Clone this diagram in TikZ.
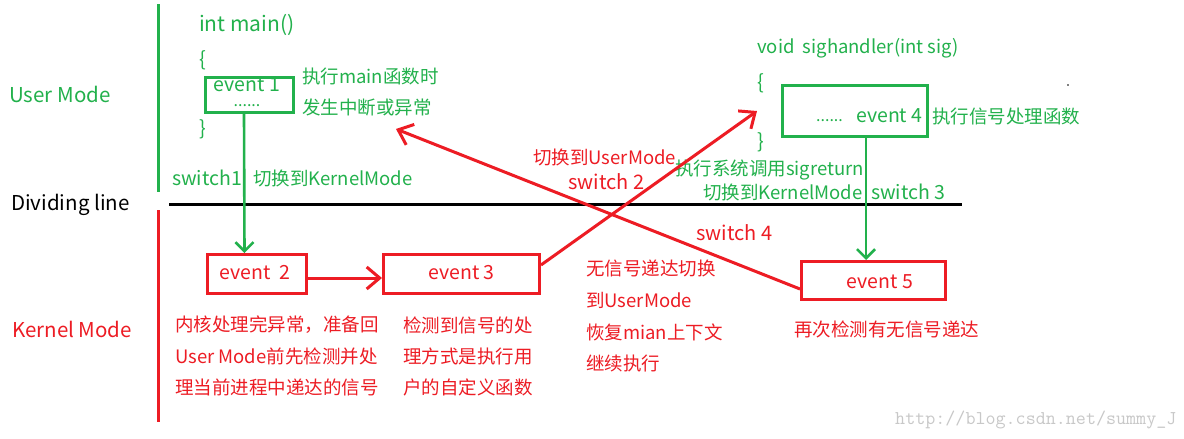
\documentclass[tikz,border=0pt]{standalone}
\usepackage{fontspec}
\setmainfont{Noto Sans CJK SC}
\usetikzlibrary{arrows.meta}
\definecolor{pgreen}{RGB}{34,177,76}
\definecolor{pred}{RGB}{237,28,36}
\definecolor{wmgray}{RGB}{200,200,200}
\begin{document}
\begin{tikzpicture}[x=1pt,y=-1pt,
  txt/.style={anchor=west,inner sep=0pt,font=\fontsize{18.5}{22}\selectfont},
  gtxt/.style={txt,text=pgreen},
  rtxt/.style={txt,text=pred},
  modelabel/.style={anchor=west,inner sep=0pt,font=\fontsize{20.5}{24}\selectfont},
  evtxt/.style={inner sep=0pt,font=\fontsize{19.5}{23}\selectfont},
  gbox/.style={draw=pgreen,line width=3pt,inner sep=0pt},
  rbox/.style={draw=pred,line width=3pt,inner sep=0pt},
  garrow/.style={draw=pgreen,line width=2.6pt,-{Straight Barb[length=9pt,width=18pt]}},
  rarrow/.style={draw=pred,line width=3pt,-{Straight Barb[length=13pt,width=22pt]}},
  modeline/.style={line width=3pt}]
\useasboundingbox[fill=white] (0,0) rectangle (1184,439);

% mode lines
\draw[modeline,pgreen] (158,4) -- (158,192);
\draw[modeline,pred] (158,210) -- (158,422);
\draw[modeline,black] (169,204.5) -- (962,204.5);

% mode labels
\node[modelabel,text=pgreen] (um) at (9,94) {User Mode};
\node[modelabel,text=black] (dl) at (11,205) {Dividing line};
\node[modelabel,text=pred] (km) at (12,329) {Kernel Mode};

% main()
\node[gtxt,font=\fontsize{21}{25}\selectfont] (im) at (199,25) {int main()};
\node[gtxt,font=\fontsize{20}{24}\selectfont] (ob1) at (199,60) {\{};
\node[gtxt,font=\fontsize{20}{24}\selectfont] (cb1) at (199,129) {\}};
\node[gbox,minimum width=88pt,minimum height=35pt] (e1) at (249.5,95) {};
\node[evtxt,text=pgreen,align=center] (e1t) at (247,92) {event 1\\[-8pt]{\fontsize{16}{18}\selectfont ......}};
\node[gtxt] (n1a) at (302,76) {执行main函数时};
\node[gtxt] (n1b) at (302,107) {发生中断或异常};
\node[gtxt,font=\fontsize{19.5}{23}\selectfont] (sw1) at (172,178) {switch1};
\node[gtxt] (sw1t) at (253,178) {切换到KernelMode};

% sighandler
\node[gtxt] (sh) at (757,48) {void\ \ sighandler(int sig)};
\node[gtxt,font=\fontsize{20}{24}\selectfont] (ob2) at (757,83) {\{};
\node[gtxt,font=\fontsize{20}{24}\selectfont] (cb2) at (757,142) {\}};
\node[gbox,minimum width=145pt,minimum height=51pt] (e4) at (855,111) {};
\node[evtxt,text=pgreen,anchor=base west,font=\fontsize{16}{19}\selectfont] (e4d) at (816,121) {......};
\node[evtxt,text=pgreen,anchor=west] (e4t) at (856,116) {event 4};
\node[gtxt] (n4) at (932,116) {执行信号处理函数};
\fill[black] (1068,85) circle (0.9pt);
\node[gtxt] (n4a) at (675,170) {执行系统调用sigreturn};
\node[gtxt] (n4b) at (703,192) {切换到KernelMode};
\node[gtxt,font=\fontsize{19.5}{23}\selectfont] (sw3) at (871,192) {switch 3};

% kernel events
\node[rbox,minimum width=99pt,minimum height=39pt] (e2) at (257,274) {};
\node[evtxt,text=pred] (e2t) at (255,273) {event\ \ 2};
\node[rbox,minimum width=156pt,minimum height=39pt] (e3) at (461.5,274) {};
\node[evtxt,text=pred] (e3t) at (461.5,273) {event 3};
\node[rbox,minimum width=144pt,minimum height=38pt] (e5) at (873.5,280.5) {};
\node[evtxt,text=pred] (e5t) at (880,282) {event 5};

\node[rtxt] (n2a) at (175,325) {内核处理完异常，准备回};
\node[rtxt] (n2b) at (175,356) {User Mode前先检测并处};
\node[rtxt] (n2c) at (175,387) {理当前进程中递达的信号};
\node[rtxt] (n3a) at (403,325) {检测到信号的处};
\node[rtxt] (n3b) at (403,356) {理方式是执行用};
\node[rtxt] (n3c) at (403,387) {户的自定义函数};
\node[rtxt] (m1) at (586,268) {无信号递达切换};
\node[rtxt] (m2) at (586,300) {到UserMode};
\node[rtxt] (m3) at (586,332) {恢复mian上下文};
\node[rtxt] (m4) at (586,363) {继续执行};
\node[rtxt] (n5) at (794,329) {再次检测有无信号递达};

\node[rtxt] (sw2t) at (533,157) {切换到UserMode};
\node[rtxt,font=\fontsize{20}{23}\selectfont] (sw2) at (568,182) {switch 2};
\node[rtxt,font=\fontsize{20}{23}\selectfont] (sw4) at (696,233) {switch 4};

% connectors
\coordinate (s2tip) at (757,111);
\coordinate (s4tip) at (396,129);
\draw[garrow] ([xshift=-5.5pt]e1.south) -- ([xshift=-12.5pt]e2.north);
\draw[garrow] ([xshift=11pt]e4.south) -- ([xshift=-7.5pt]e5.north);
\draw[rarrow] ([yshift=-4pt]e2.east) -- ([yshift=-4pt]e3.west);
\draw[rarrow] ([yshift=9pt]e3.east) -- (s2tip);
\draw[rarrow] ([yshift=-8.5pt]e5.west) -- (s4tip);

% watermark
\node[anchor=west,inner sep=0pt,text=wmgray,font=\ttfamily\fontsize{19.5}{22}\selectfont] (wm) at (895,420) {http://blog.csdn.net/summy\_J};
\end{tikzpicture}
\end{document}
